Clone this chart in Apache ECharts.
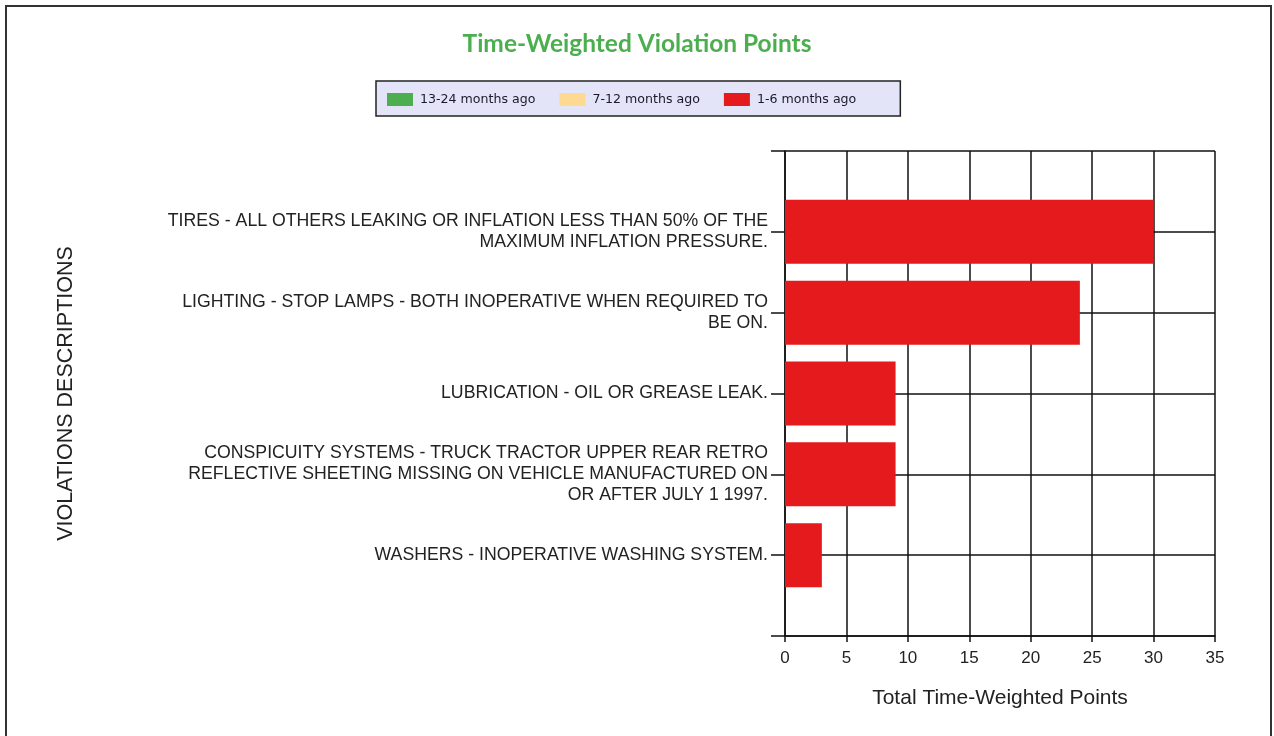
<!DOCTYPE html>
<html>
<head>
<meta charset="utf-8">
<script src="https://cdn.jsdelivr.net/npm/echarts@6/dist/echarts.min.js"></script>
<style>
html,body{margin:0;padding:0;background:#fff;}
#chart{width:1274px;height:736px;}
</style>
</head>
<body>
<div id="chart"></div>
<script>
// ---- data ----
var categories = [
  'TIRES - ALL OTHERS LEAKING OR INFLATION LESS THAN 50% OF THE\nMAXIMUM INFLATION PRESSURE.',
  'LIGHTING - STOP LAMPS - BOTH INOPERATIVE WHEN REQUIRED TO\nBE ON.',
  'LUBRICATION - OIL OR GREASE LEAK.',
  'CONSPICUITY SYSTEMS - TRUCK TRACTOR UPPER REAR RETRO\nREFLECTIVE SHEETING MISSING ON VEHICLE MANUFACTURED ON\nOR AFTER JULY 1 1997.',
  'WASHERS - INOPERATIVE WASHING SYSTEM.'
];
var seriesNames = ['13-24 months ago', '7-12 months ago', '1-6 months ago'];
var months13to24 = [0, 0, 0, 0, 0];
var months7to12 = [0, 0, 0, 0, 0];
var months1to6 = [30, 24, 9, 9, 3];
var xTicks = [0, 5, 10, 15, 20, 25, 30, 35];

// ---- build ----
function pad(arr) { return [null].concat(arr, [null]); }
var axisCats = [''].concat(categories, ['']);
var colors = ['#4cae4f', '#fdd992', '#e41a1c'];
var seriesData = [months13to24, months7to12, months1to6];

var lineCol = '#111';
var chart = echarts.init(document.getElementById('chart'), null, {renderer: 'canvas'});
chart.setOption({
  animation: false,
  backgroundColor: '#fff',
  title: {
    text: 'Time-Weighted Violation Points',
    left: 'center',
    top: 27,
    textStyle: {color: '#4cae4f', fontFamily: 'Lato', fontWeight: 'bold', fontSize: 24.5}
  },
  legend: {
    left: 376,
    top: 81,
    padding: [12, 44, 10, 11],
    itemWidth: 26,
    itemHeight: 13,
    itemGap: 24,
    backgroundColor: '#e4e4f8',
    borderColor: '#222',
    borderWidth: 1.5,
    borderRadius: 0,
    icon: 'rect',
    data: seriesNames,
    textStyle: {color: '#1a1a2a', fontFamily: 'DejaVu Sans', fontSize: 12.6, padding: [0, 0, 0, 2]}
  },
  grid: {left: 785, right: 59, top: 151, bottom: 100, containLabel: false},
  xAxis: {
    type: 'value',
    min: 0, max: 35, interval: 5,
    name: 'Total Time-Weighted Points',
    nameLocation: 'middle',
    nameGap: 52,
    nameTextStyle: {color: '#222', fontFamily: 'Liberation Sans', fontSize: 21},
    axisLine: {show: true, lineStyle: {color: lineCol, width: 1.5}},
    axisTick: {show: true, length: 6, lineStyle: {color: lineCol, width: 1.5}},
    axisLabel: {color: '#222', fontFamily: 'Liberation Sans', fontSize: 17, margin: 14,
      formatter: function (v) { return xTicks.indexOf(v) >= 0 ? String(v) : ''; }},
    splitLine: {show: true, lineStyle: {color: lineCol, width: 1.5}}
  },
  yAxis: {
    type: 'category',
    inverse: true,
    boundaryGap: false,
    data: axisCats,
    name: 'VIOLATIONS DESCRIPTIONS',
    nameLocation: 'middle',
    nameRotate: 90,
    nameGap: 708,
    nameTextStyle: {color: '#222', fontFamily: 'Liberation Sans', fontSize: 21.5},
    axisLine: {show: true, lineStyle: {color: lineCol, width: 1.5}},
    axisTick: {show: true, length: 14, lineStyle: {color: lineCol, width: 1.5}},
    axisLabel: {color: '#222', fontFamily: 'Liberation Sans', fontSize: 17.7, lineHeight: 21, margin: 17, align: 'right'},
    splitLine: {show: true, lineStyle: {color: lineCol, width: 1.5}}
  },
  series: seriesNames.map(function (n, i) {
    return {
      name: n,
      type: 'bar',
      stack: 'total',
      barWidth: 64,
      itemStyle: {color: colors[i]},
      data: pad(seriesData[i])
    };
  }),
  graphic: [{
    type: 'rect',
    shape: {x: 6, y: 6, width: 1265, height: 760},
    style: {fill: null, stroke: '#333', lineWidth: 2},
    silent: true,
    z: 100
  }]
});
</script>
</body>
</html>
